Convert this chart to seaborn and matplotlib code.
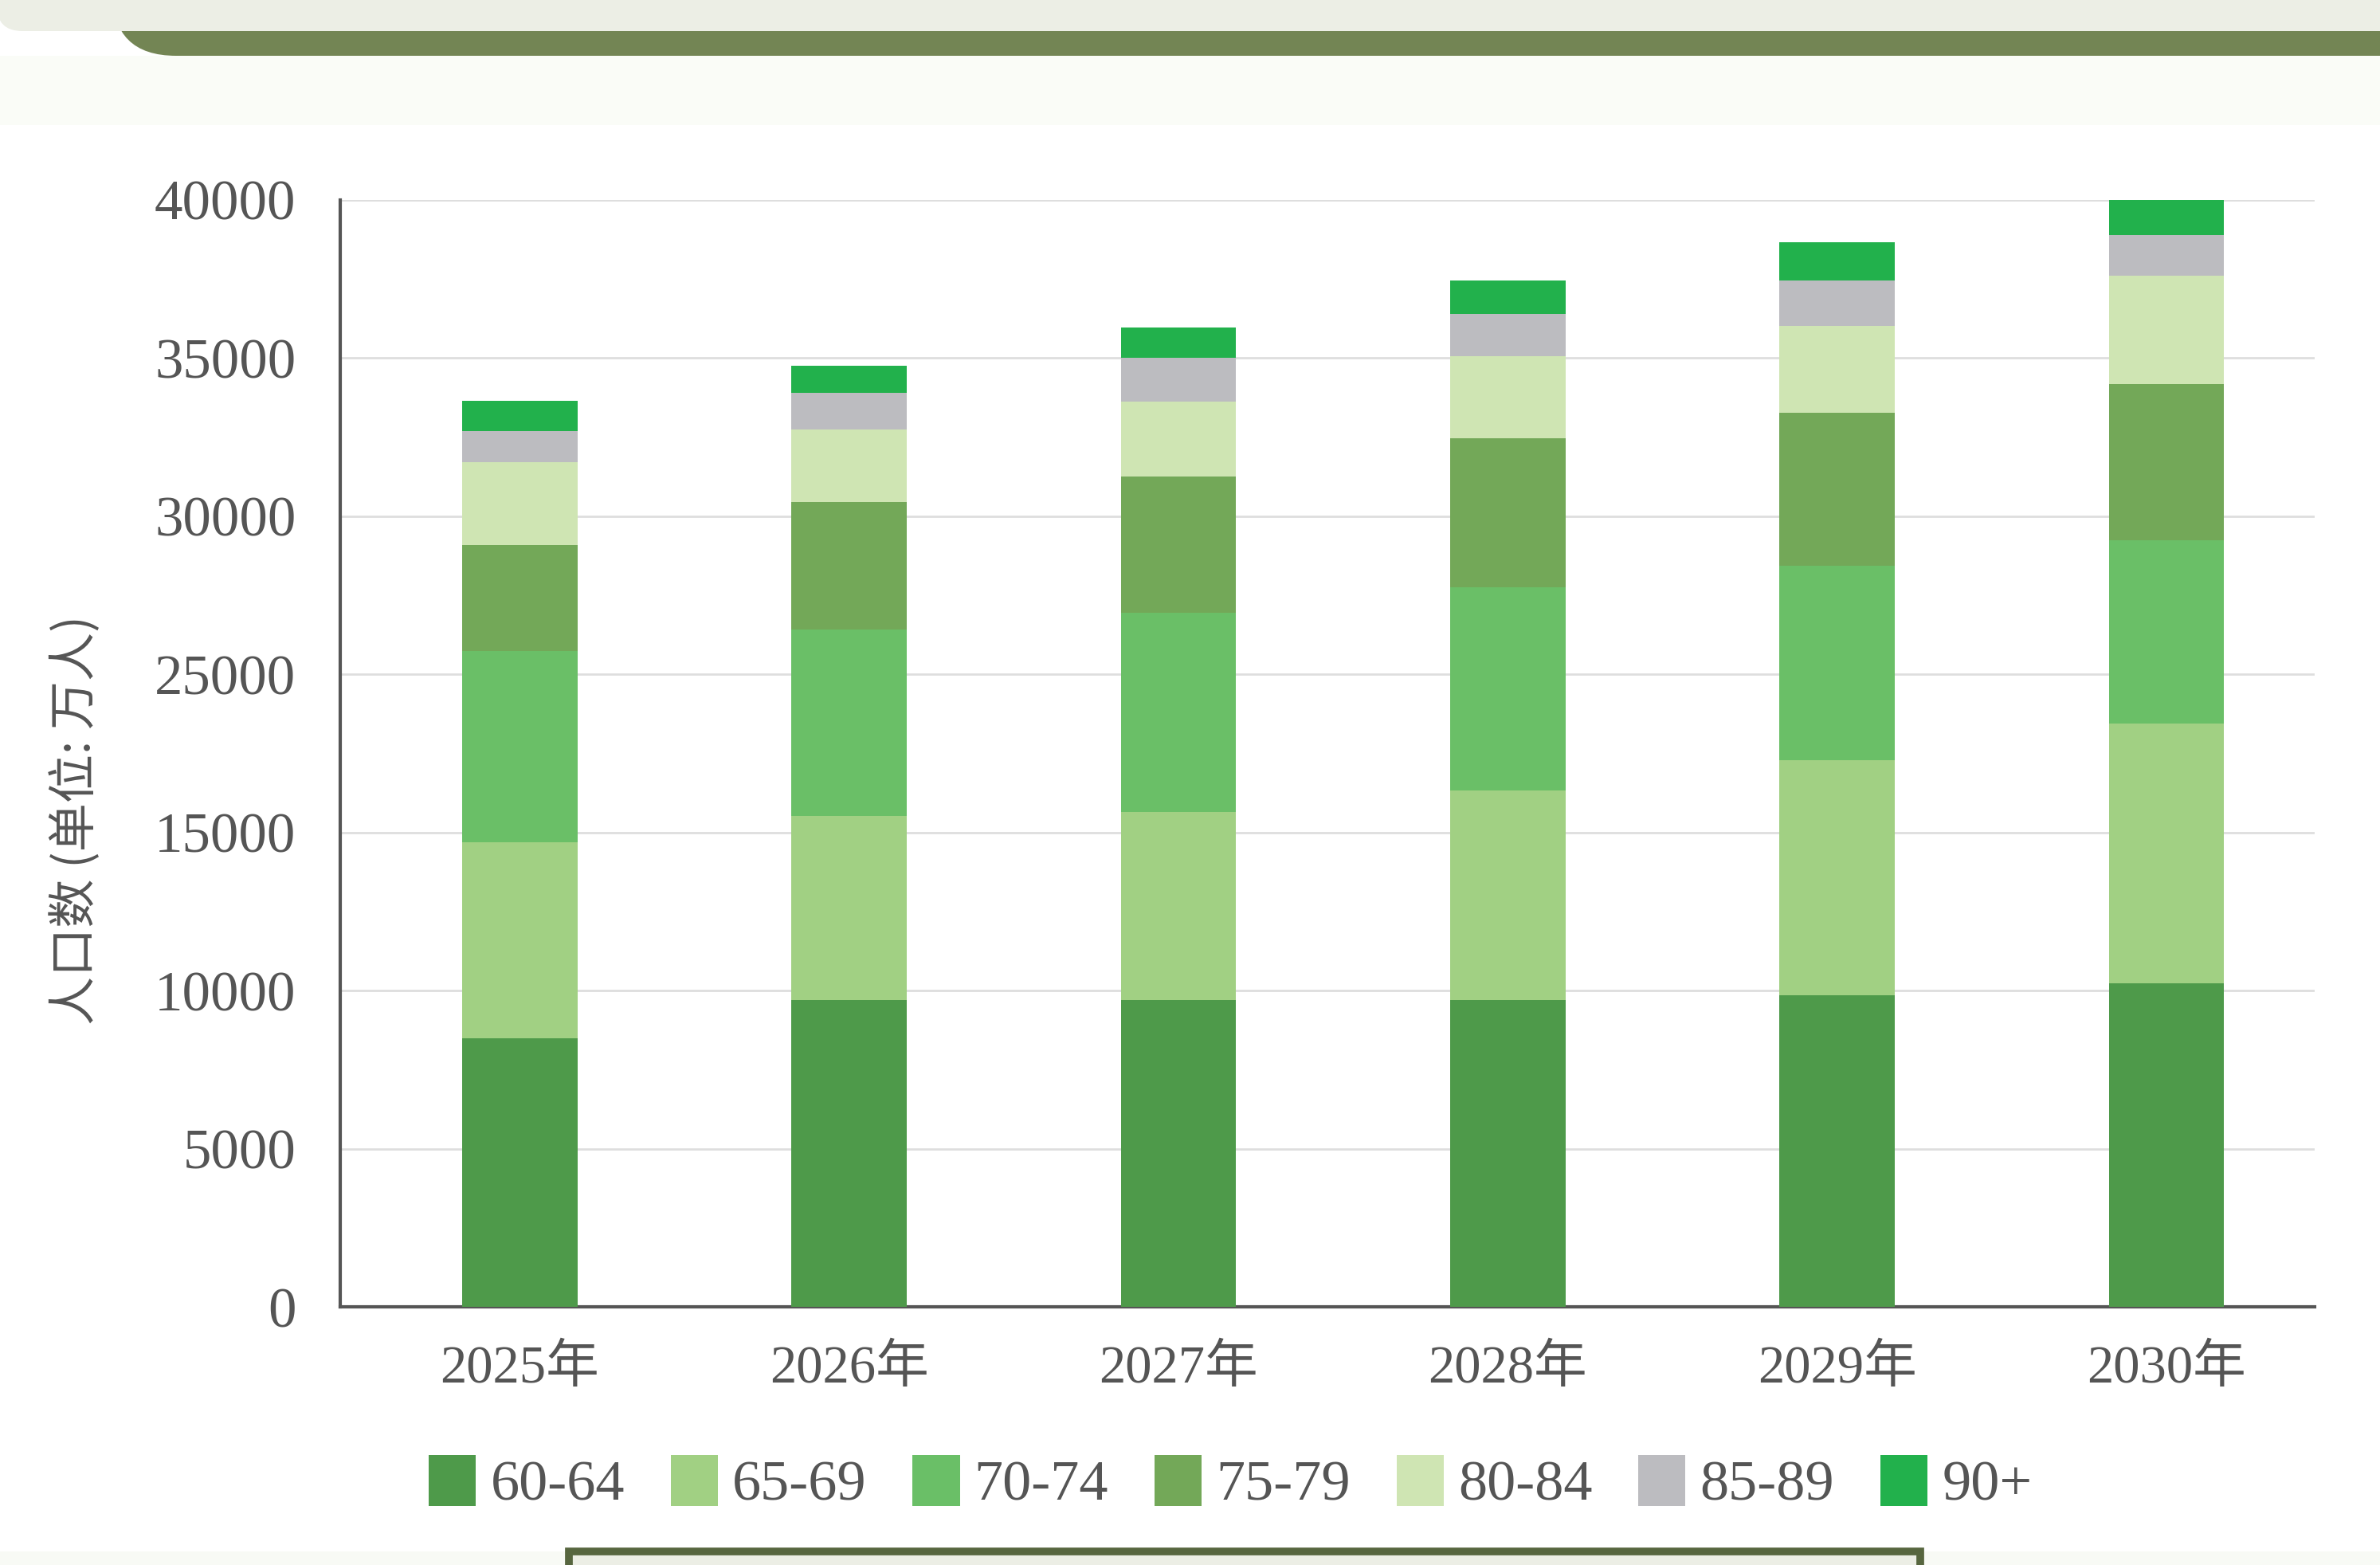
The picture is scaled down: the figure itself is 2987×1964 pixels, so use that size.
import matplotlib
matplotlib.use('Agg')
import matplotlib.pyplot as plt
from matplotlib.patches import FancyBboxPatch, Rectangle
import numpy as np
import pandas as pd
import seaborn as sns

# data (in axis position units;
# the original chart's tick labels skip 20000, reproduced below)
years = ['2025年', '2026年', '2027年', '2028年', '2029年', '2030年']
groups = ['60-64', '65-69', '70-74', '75-79', '80-84', '85-89', '90+']
v_60_64 = [8500, 9700, 9700, 9700, 9840, 10230]
v_65_69 = [6190, 5810, 5950, 6620, 7440, 8210]
v_70_74 = [6050, 5900, 6290, 6440, 6150, 5810]
v_75_79 = [3360, 4040, 4320, 4700, 4850, 4940]
v_80_84 = [2600, 2300, 2360, 2600, 2740, 3410]
v_85_89 = [1000, 1150, 1390, 1340, 1440, 1300]
v_90 = [960, 870, 960, 1060, 1200, 1100]
tick_pos = [0, 5000, 10000, 15000, 20000, 25000, 30000, 35000]
tick_labels = ['0', '5000', '10000', '15000', '25000', '30000', '35000', '40000']

colors = ['#4e9a4a', '#a1d083', '#6abf67', '#73a858', '#cfe5b3', '#bcbcc0', '#22b14c']

W, H = 2987, 1964
DPI = 200

sns.set_theme(style='white')
plt.rcParams['font.family'] = ['Liberation Serif', 'Noto Sans CJK SC', 'DejaVu Sans']

fig = plt.figure(figsize=(W / DPI, H / DPI), dpi=DPI)
fig.patch.set_facecolor('white')

# background decoration in pixel coordinates
bg = fig.add_axes([0, 0, 1, 1], zorder=0)
bg.set_xlim(0, W)
bg.set_ylim(H, 0)
bg.axis('off')
bg.add_patch(Rectangle((0, 70), W, 87, color='#fafcf7', lw=0))
bg.add_patch(FancyBboxPatch((141, -100), W + 300, 170,
                            boxstyle='round,pad=0,rounding_size=80',
                            fc='#738554', ec='none'))
bg.add_patch(FancyBboxPatch((-4, -80), W + 300, 119,
                            boxstyle='round,pad=0,rounding_size=32',
                            fc='#eceee5', ec='none'))
bg.add_patch(Rectangle((0, 1947), W, 40, color='#f8faf5', lw=0))
bg.add_patch(Rectangle((714, 1947), 1696, 60, fc='#eceee5', ec='#57663f', lw=3.5))

ax = fig.add_axes([427 / W, 1 - 1640 / H, (2905 - 427) / W, (1640 - 251) / H], zorder=1)
ax.set_facecolor('none')

df = pd.DataFrame({'year': years})
layers = [v_60_64, v_65_69, v_70_74, v_75_79, v_80_84, v_85_89, v_90]
cum = np.cumsum(np.array(layers), axis=0)

# stacked bars: draw cumulative totals from the top layer down
for i in range(len(groups) - 1, -1, -1):
    df['v'] = cum[i]
    sns.barplot(data=df, x='year', y='v', color=colors[i], saturation=1,
                width=0.35, ax=ax, label=groups[i], linewidth=0, edgecolor='none',
                zorder=3 + (len(groups) - i))

ax.set_xlim(-0.545, 5.45)
ax.set_ylim(0, 35000)
ax.set_yticks(tick_pos)
ax.set_yticklabels(tick_labels)
ax.grid(axis='y', color='#dedede', lw=1.0, zorder=0)
ax.set_axisbelow(True)
ax.set_xlabel('')
ax.set_ylabel('')
for s in ['top', 'right']:
    ax.spines[s].set_visible(False)
for s in ['left', 'bottom']:
    ax.spines[s].set_color('#555555')
    ax.spines[s].set_linewidth(1.5)
ax.tick_params(axis='y', length=0, pad=20, labelsize=25.5, labelcolor='#555555')
ax.tick_params(axis='x', length=0, pad=17, labelsize=24, labelcolor='#555555')

fig.text(0.032, 0.476, '人口数 (单位: 万人)', rotation=90, ha='center', va='center',
         fontsize=22, color='#555555', family=['Noto Sans CJK SC', 'DejaVu Sans'])

handles, labels = ax.get_legend_handles_labels()
order = [labels.index(g) for g in groups]
leg = fig.legend([handles[k] for k in order], groups, loc='center',
                 bbox_to_anchor=(0.517, 0.052), ncol=7, frameon=False,
                 handlelength=0.82, handleheight=1.0,
                 handletextpad=0.25, columnspacing=0.8,
                 prop={'family': ['Liberation Serif', 'DejaVu Sans'], 'size': 26})
for t in leg.get_texts():
    t.set_color('#555555')
if ax.get_legend() is not None:
    ax.get_legend().remove()

fig.savefig('out.png', dpi=DPI)
